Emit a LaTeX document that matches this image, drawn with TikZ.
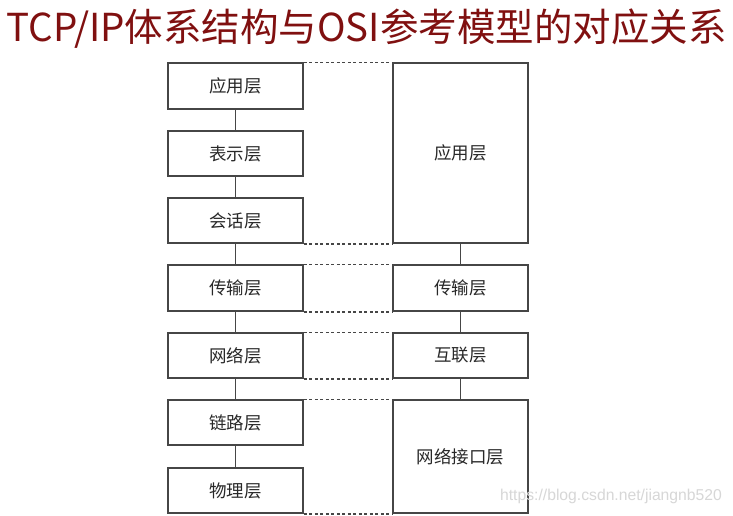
\documentclass[tikz,border=0pt]{standalone}
\usepackage{fontspec}
\setmainfont{Liberation Sans}
\newfontfamily\cjk{Noto Sans CJK SC}
\definecolor{titlered}{RGB}{128,16,16}
\definecolor{boxline}{RGB}{70,70,70}
\definecolor{boxtext}{RGB}{40,40,40}
\definecolor{wm}{RGB}{215,215,215}
\begin{document}
\begin{tikzpicture}[x=1pt,y=-1pt,
  layerbox/.style={draw=boxline, line width=1.5pt, fill=white, inner sep=0pt,
    minimum width=135pt, font=\cjk\fontsize{17.5}{19}\selectfont, text=boxtext},
  link/.style={draw=boxline, line width=1.6pt},
  dotlink/.style={draw=boxline, line width=1.5pt, dash pattern=on 3pt off 2.5pt}]
\fill[white] (0,0) rectangle (733,515);
\useasboundingbox (0,0) rectangle (733,515);
\node[text=titlered, font=\cjk\fontsize{38.5}{41}\selectfont, inner sep=0pt] (title) at (366.5,29) {TCP/IP体系结构与OSI参考模型的对应关系};
% left OSI column
\node[layerbox, minimum height=46pt] (l1) at (235.5,86) {应用层};
\node[layerbox, minimum height=45pt] (l2) at (235.5,153.5) {表示层};
\node[layerbox, minimum height=45pt] (l3) at (235.5,220.5) {会话层};
\node[layerbox, minimum height=46pt] (l4) at (235.5,288) {传输层};
\node[layerbox, minimum height=45pt] (l5) at (235.5,355.5) {网络层};
\node[layerbox, minimum height=45pt] (l6) at (235.5,422.5) {链路层};
\node[layerbox, minimum height=45pt] (l7) at (235.5,490.5) {物理层};
% right TCP/IP column
\node[layerbox, minimum height=180pt] (r1) at (460.5,153) {应用层};
\node[layerbox, minimum height=46pt] (r2) at (460.5,288) {传输层};
\node[layerbox, minimum height=45pt] (r3) at (460.5,355.5) {互联层};
\node[layerbox, minimum height=113pt] (r4) at (460.5,456.5) {网络接口层};
% vertical links
\draw[link] (l1.south) -- (l2.north);
\draw[link] (l2.south) -- (l3.north);
\draw[link] (l3.south) -- (l4.north);
\draw[link] (l4.south) -- (l5.north);
\draw[link] (l5.south) -- (l6.north);
\draw[link] (l6.south) -- (l7.north);
\draw[link] (r1.south) -- (r2.north);
\draw[link] (r2.south) -- (r3.north);
\draw[link] (r3.south) -- (r4.north);
% dotted correspondences
\draw[dotlink] (l1.north east) -- (r1.north west);
\draw[dotlink] (l3.south east) -- (r1.south west);
\draw[dotlink] (l4.north east) -- (r2.north west);
\draw[dotlink] (l4.south east) -- (r2.south west);
\draw[dotlink] (l5.north east) -- (r3.north west);
\draw[dotlink] (l5.south east) -- (r3.south west);
\draw[dotlink] (l6.north east) -- (r4.north west);
\draw[dotlink] (l7.south east) -- (r4.south west);
% watermark
\node[text=wm, font=\fontsize{15.7}{17}\selectfont, inner sep=0pt] (wmark) at (611,496) {https://blog.csdn.net/jiangnb520};
\end{tikzpicture}
\end{document}
